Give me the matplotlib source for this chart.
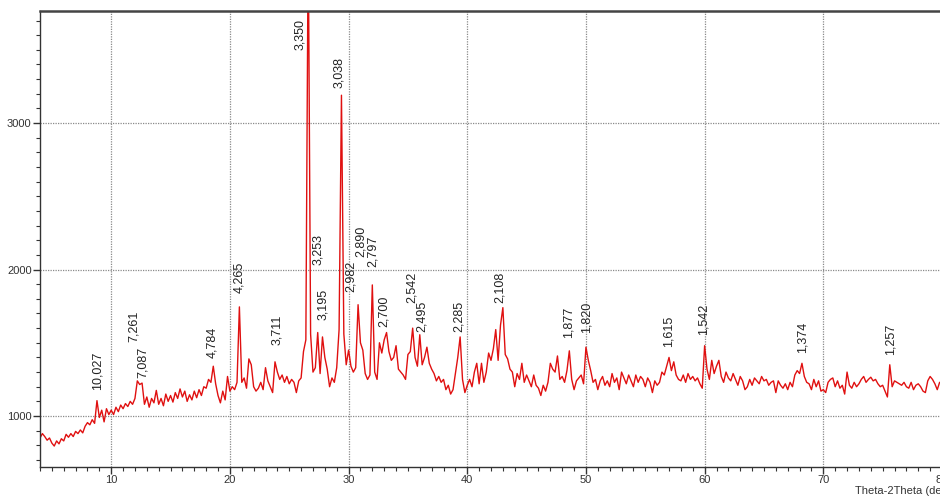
import numpy as np
import matplotlib
matplotlib.use("Agg")
import matplotlib.pyplot as plt
from matplotlib.ticker import MultipleLocator

plt.rcParams['font.family'] = ['Liberation Sans', 'DejaVu Sans']

# XRD pattern, one value every 0.2 deg from 4 to 80
two_theta = np.round(np.arange(4.0, 80.01, 0.2), 1)
counts = [
    850, 880, 860, 835, 850, 815, 795, 830, 810, 845,            # 4
    830, 875, 855, 880, 860, 895, 880, 905, 885, 930,            # 6
    955, 940, 975, 950, 1105, 990, 1040, 960, 1050, 1010,        # 8
    1040, 1010, 1060, 1030, 1075, 1050, 1085, 1065, 1100, 1080,  # 10
    1120, 1240, 1215, 1225, 1080, 1130, 1060, 1120, 1090, 1175,  # 12
    1080, 1120, 1070, 1150, 1100, 1140, 1095, 1160, 1120, 1185,  # 14
    1130, 1170, 1100, 1145, 1110, 1170, 1125, 1180, 1140, 1200,  # 16
    1190, 1250, 1230, 1340, 1220, 1140, 1090, 1170, 1110, 1270,  # 18
    1170, 1200, 1180, 1230, 1745, 1230, 1260, 1190, 1390, 1350,  # 20
    1200, 1170, 1190, 1230, 1180, 1330, 1240, 1200, 1160, 1370,  # 22
    1300, 1250, 1280, 1230, 1270, 1220, 1250, 1230, 1160, 1240,  # 24
    1260, 1440, 1520, 4300, 1560, 1300, 1330, 1570, 1290, 1540,  # 26
    1400, 1320, 1200, 1260, 1230, 1330, 1590, 3190, 1560, 1350,  # 28
    1450, 1340, 1300, 1330, 1760, 1500, 1450, 1290, 1250, 1280,  # 30
    1895, 1300, 1250, 1500, 1430, 1520, 1570, 1440, 1380, 1400,  # 32
    1480, 1320, 1300, 1280, 1250, 1420, 1440, 1600, 1400, 1340,  # 34
    1555, 1350, 1400, 1470, 1360, 1320, 1290, 1240, 1270, 1230,  # 36
    1250, 1180, 1210, 1150, 1180, 1290, 1400, 1540, 1250, 1160,  # 38
    1210, 1250, 1200, 1300, 1360, 1220, 1360, 1230, 1300, 1430,  # 40
    1380, 1460, 1590, 1380, 1620, 1740, 1420, 1390, 1320, 1300,  # 42
    1200, 1290, 1250, 1360, 1230, 1280, 1240, 1200, 1280, 1210,  # 44
    1190, 1140, 1210, 1170, 1230, 1360, 1320, 1300, 1410, 1250,  # 46
    1270, 1230, 1310, 1445, 1250, 1180, 1240, 1260, 1280, 1220,  # 48
    1470, 1380, 1310, 1230, 1250, 1180, 1240, 1270, 1210, 1240,  # 50
    1200, 1290, 1230, 1260, 1180, 1300, 1260, 1220, 1280, 1240,  # 52
    1200, 1280, 1230, 1270, 1250, 1200, 1260, 1230, 1160, 1240,  # 54
    1210, 1230, 1300, 1280, 1340, 1400, 1310, 1370, 1280, 1250,  # 56
    1240, 1280, 1230, 1290, 1250, 1270, 1240, 1260, 1220, 1190,  # 58
    1480, 1320, 1250, 1380, 1290, 1340, 1380, 1270, 1230, 1300,  # 60
    1260, 1240, 1290, 1250, 1210, 1270, 1240, 1180, 1200, 1250,  # 62
    1210, 1260, 1240, 1220, 1270, 1240, 1250, 1210, 1230, 1240,  # 64
    1160, 1240, 1210, 1190, 1220, 1180, 1230, 1200, 1280, 1310,  # 66
    1290, 1360, 1270, 1230, 1220, 1180, 1250, 1200, 1240, 1170,  # 68
    1180, 1160, 1230, 1250, 1260, 1200, 1240, 1190, 1210, 1150,  # 70
    1300, 1210, 1190, 1230, 1200, 1220, 1250, 1270, 1230, 1250,  # 72
    1265, 1240, 1250, 1220, 1200, 1210, 1170, 1130, 1350, 1200,  # 74
    1240, 1230, 1220, 1210, 1230, 1200, 1190, 1230, 1180, 1210,  # 76
    1220, 1200, 1170, 1160, 1240, 1270, 1250, 1220, 1180, 1230,  # 78
    1220,                                                        # 80
]

# d-spacing labels (text, 2theta where the label sits, counts at its lower end)
peak_labels = ['10,027', '7,261', '7,087', '4,784', '4,265', '3,711', '3,350',
               '3,253', '3,195', '3,038', '2,982', '2,890', '2,797', '2,700',
               '2,542', '2,495', '2,285', '2,108', '1,877', '1,820', '1,615',
               '1,542', '1,374', '1,257']
label_theta = [8.82, 11.94, 12.70, 18.51, 20.78, 23.98, 25.92,
               27.44, 27.86, 29.21, 30.22, 31.06, 32.0, 33.0,
               35.36, 36.2, 39.32, 42.77, 48.5, 50.02, 56.93,
               59.87, 68.21, 75.63]
label_base = [1177, 1505, 1259, 1396, 1840, 1485, 3498,
              2031, 1655, 3239, 1850, 2085, 2017, 1608,
              1771, 1573, 1573, 1771, 1532, 1567, 1471,
              1553, 1430, 1416]

assert len(counts) == len(two_theta)

fig = plt.figure(figsize=(9.4, 5.0), dpi=100)
ax = fig.add_axes([40 / 940, 33 / 500, 902 / 940, 456 / 500])

ax.plot(two_theta, counts, color='#e01010', lw=1.0)

for txt, tx, ty in zip(peak_labels, label_theta, label_base):
    ax.text(tx, ty, txt, rotation=90, ha='center', va='bottom',
            fontsize=9, color='#222222')

ax.set_xlim(4, 80)
ax.set_ylim(652, 3765)
ax.xaxis.set_major_locator(MultipleLocator(10))
ax.xaxis.set_minor_locator(MultipleLocator(1))
ax.yaxis.set_major_locator(MultipleLocator(1000))
ax.yaxis.set_minor_locator(MultipleLocator(100))
ax.tick_params(which='major', length=5, width=1, color='#333333',
               labelsize=8, labelcolor='#333333', pad=1)
ax.tick_params(which='minor', length=3, width=0.8, color='#333333')
ax.grid(True, which='major', color='#8a8a8a', lw=0.9, linestyle=(0, (1, 1)))

for side in ['left', 'bottom']:
    ax.spines[side].set_color('#333333')
    ax.spines[side].set_linewidth(1.0)
ax.spines['top'].set_color('#444444')
ax.spines['top'].set_linewidth(1.8)

fig.text(855 / 940, 1 - 491 / 500, 'Theta-2Theta (deg)', fontsize=8,
         color='#333333', ha='left', va='center')

fig.savefig('out.png', dpi=100)
